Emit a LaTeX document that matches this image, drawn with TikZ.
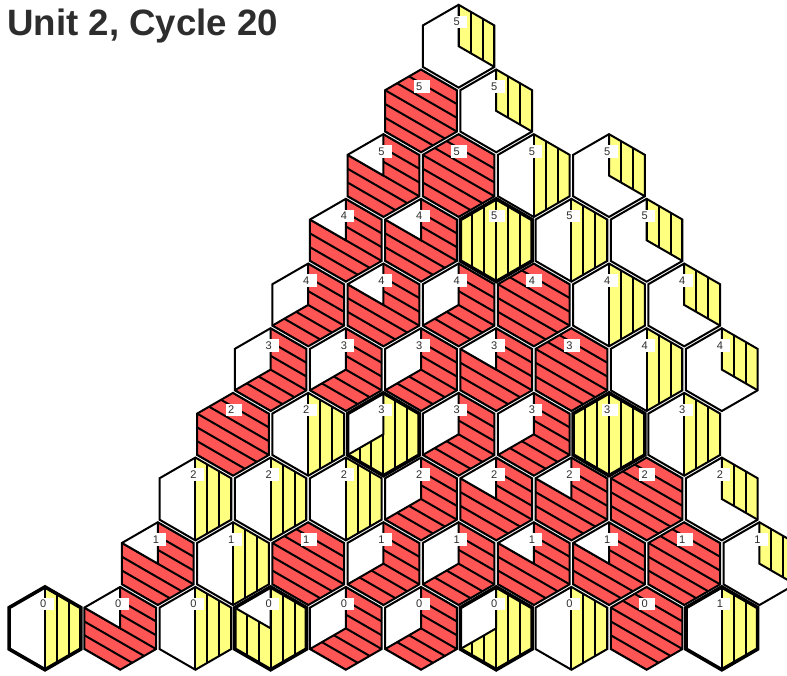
\documentclass[tikz,border=0pt]{standalone}
\usepackage{fontspec}
\setmainfont{Liberation Sans}
\definecolor{hcolr}{RGB}{255,85,85}
\definecolor{hcoly}{RGB}{255,255,128}
\definecolor{ink}{RGB}{45,45,45}
\tikzset{
  hexedge/.style={line width=1.5pt, line join=miter, draw=black},
  hexstripe/.style={line width=1.5pt, draw=black},
  hexlbl/.style={fill=white, inner sep=0pt, minimum width=12pt, minimum height=9.5pt, font=\fontsize{8.3}{8.3}\selectfont, text=ink},
  titletext/.style={font=\fontsize{27.5}{30}\selectfont\bfseries, text=ink, inner sep=0pt, anchor=base west}
}
\newcommand\hstripesr{%
  \foreach \n in {-3,...,3}{\draw[hexstripe] ({\hcx-37},{\hcy+13.8*\n-21.36}) -- ({\hcx+37},{\hcy+13.8*\n+21.36});}}
\newcommand\hstripesy{%
  \foreach \n in {-3,...,3}{\draw[hexstripe] ({\hcx+11.95*\n},{\hcy-43}) -- ({\hcx+11.95*\n},{\hcy+43});}}
% #1 row, #2 column index, #3 r/y, #4 number of filled triangles from the top-right, #5 border width, #6 label
\newcommand\hexcell[6]{%
  \pgfmathsetmacro\hcx{45+37.6*#2}%
  \pgfmathsetmacro\hcy{46.2+64.68*#1}%
  \foreach \i in {0,...,6}{\coordinate (v-#1-#2-\i) at ({\hcx+41.4*sin(60*\i)},{\hcy-41.4*cos(60*\i)});}
  \coordinate (c-#1-#2) at (\hcx,\hcy);
  \fill[hcol#3, draw=hcol#3, line width=0.4pt] (c-#1-#2) \foreach \i in {0,...,#4}{ -- (v-#1-#2-\i)} -- cycle;
  \begin{scope}
    \clip (c-#1-#2) \foreach \i in {0,...,#4}{ -- (v-#1-#2-\i)} -- cycle;
    \csname hstripes#3\endcsname
  \end{scope}
  \ifnum#4<6 \draw[hexedge] (v-#1-#2-0) -- (c-#1-#2) -- (v-#1-#2-#4);\fi
  \draw[hexedge, line width=#5] (v-#1-#2-0) -- (v-#1-#2-1) -- (v-#1-#2-2) -- (v-#1-#2-3) -- (v-#1-#2-4) -- (v-#1-#2-5) -- cycle;
  \node[hexlbl] (lab-#1-#2) at ({\hcx+0.5},{\hcy-24.3}) {\makebox[12pt][l]{\hspace{1.9pt}#6}};
}
\begin{document}
\begin{tikzpicture}[x=0.75pt, y=-0.75pt]
\useasboundingbox (0,0) rectangle (787,675);
\fill[white] (0,0) rectangle (787,675);
\clip (0,0) rectangle (787,675);
\node[titletext] (title) at (7,35) {Unit 2, Cycle 20};
% row 0
\hexcell{0}{11}{y}{2}{1.5pt}{5}
% row 1
\hexcell{1}{10}{r}{6}{1.5pt}{5}
\hexcell{1}{12}{y}{2}{1.5pt}{5}
% row 2
\hexcell{2}{9}{r}{5}{1.5pt}{5}
\hexcell{2}{11}{r}{6}{1.5pt}{5}
\hexcell{2}{13}{y}{3}{1.5pt}{5}
\hexcell{2}{15}{y}{2}{1.5pt}{5}
% row 3
\hexcell{3}{8}{r}{5}{1.5pt}{4}
\hexcell{3}{10}{r}{5}{1.5pt}{4}
\hexcell{3}{12}{y}{6}{2.7pt}{5}
\hexcell{3}{14}{y}{3}{1.5pt}{5}
\hexcell{3}{16}{y}{2}{1.5pt}{5}
% row 4
\hexcell{4}{7}{r}{4}{1.5pt}{4}
\hexcell{4}{9}{r}{5}{1.5pt}{4}
\hexcell{4}{11}{r}{4}{1.5pt}{4}
\hexcell{4}{13}{r}{6}{1.5pt}{4}
\hexcell{4}{15}{y}{3}{1.5pt}{4}
\hexcell{4}{17}{y}{2}{1.5pt}{4}
% row 5
\hexcell{5}{6}{r}{4}{1.5pt}{3}
\hexcell{5}{8}{r}{4}{1.5pt}{3}
\hexcell{5}{10}{r}{4}{1.5pt}{3}
\hexcell{5}{12}{r}{5}{1.5pt}{3}
\hexcell{5}{14}{r}{6}{1.5pt}{3}
\hexcell{5}{16}{y}{3}{1.5pt}{4}
\hexcell{5}{18}{y}{2}{1.5pt}{4}
% row 6
\hexcell{6}{5}{r}{6}{1.5pt}{2}
\hexcell{6}{7}{y}{3}{1.5pt}{2}
\hexcell{6}{9}{y}{4}{2.7pt}{3}
\hexcell{6}{11}{r}{4}{1.5pt}{3}
\hexcell{6}{13}{r}{4}{1.5pt}{3}
\hexcell{6}{15}{y}{6}{2.7pt}{3}
\hexcell{6}{17}{y}{3}{1.5pt}{3}
% row 7
\hexcell{7}{4}{y}{3}{1.5pt}{2}
\hexcell{7}{6}{y}{3}{1.5pt}{2}
\hexcell{7}{8}{y}{3}{1.5pt}{2}
\hexcell{7}{10}{r}{4}{1.5pt}{2}
\hexcell{7}{12}{r}{5}{1.5pt}{2}
\hexcell{7}{14}{r}{5}{1.5pt}{2}
\hexcell{7}{16}{r}{6}{1.5pt}{2}
\hexcell{7}{18}{y}{2}{1.5pt}{2}
% row 8
\hexcell{8}{3}{r}{5}{1.5pt}{1}
\hexcell{8}{5}{y}{3}{1.5pt}{1}
\hexcell{8}{7}{r}{6}{1.5pt}{1}
\hexcell{8}{9}{r}{4}{1.5pt}{1}
\hexcell{8}{11}{r}{4}{1.5pt}{1}
\hexcell{8}{13}{r}{5}{1.5pt}{1}
\hexcell{8}{15}{r}{5}{1.5pt}{1}
\hexcell{8}{17}{r}{6}{1.5pt}{1}
\hexcell{8}{19}{y}{2}{1.5pt}{1}
% row 9
\hexcell{9}{0}{y}{3}{2.7pt}{0}
\hexcell{9}{2}{r}{5}{1.5pt}{0}
\hexcell{9}{4}{y}{3}{1.5pt}{0}
\hexcell{9}{6}{y}{5}{2.7pt}{0}
\hexcell{9}{8}{r}{4}{1.5pt}{0}
\hexcell{9}{10}{r}{4}{1.5pt}{0}
\hexcell{9}{12}{y}{4}{2.7pt}{0}
\hexcell{9}{14}{y}{3}{1.5pt}{0}
\hexcell{9}{16}{r}{6}{1.5pt}{0}
\hexcell{9}{18}{y}{3}{2.7pt}{1}
\end{tikzpicture}
\end{document}
